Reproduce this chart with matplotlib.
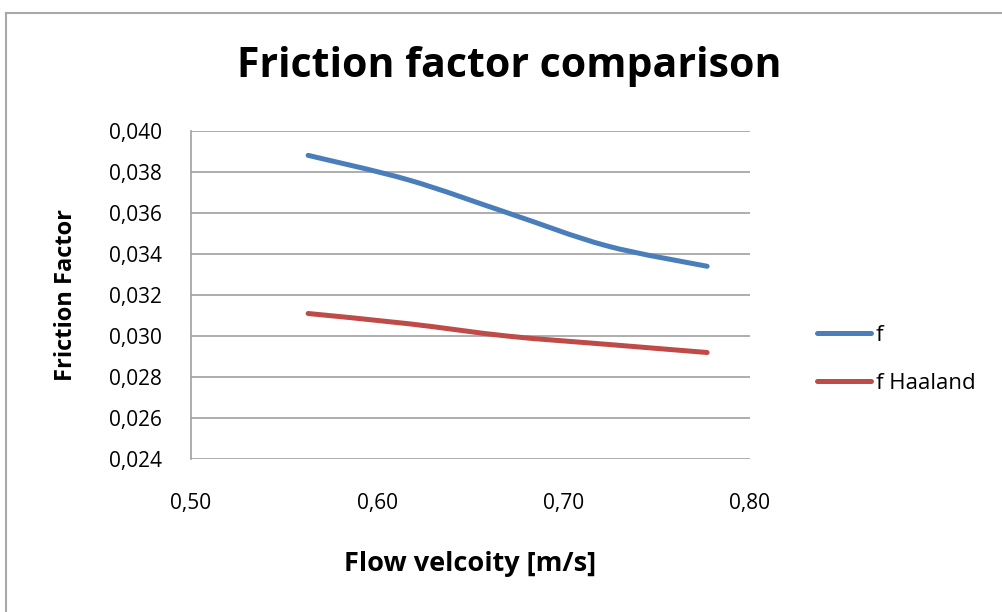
import matplotlib
matplotlib.use("Agg")
import matplotlib.pyplot as plt
from matplotlib.path import Path
from matplotlib.patches import PathPatch
from matplotlib.lines import Line2D
from matplotlib.ticker import FuncFormatter

plt.rcParams['font.family'] = ['Open Sans', 'DejaVu Sans']

# data
velocity = [0.563, 0.617, 0.670, 0.723, 0.777]
f_measured = [0.0388, 0.0376, 0.0360, 0.0344, 0.0334]
f_haaland = [0.0311, 0.0306, 0.0300, 0.0296, 0.0292]

x_ticks = [0.50, 0.60, 0.70, 0.80]
y_ticks = [0.024, 0.026, 0.028, 0.030, 0.032, 0.034, 0.036, 0.038, 0.040]

blue = '#4a7ebb'
red = '#be4b48'


def smooth_path(xs, ys):
    # Excel-like smoothed line: cubic bezier segments through the points
    verts = [(xs[0], ys[0])]
    codes = [Path.MOVETO]
    n = len(xs)
    for i in range(n - 1):
        x0, y0 = xs[max(i - 1, 0)], ys[max(i - 1, 0)]
        x1, y1 = xs[i], ys[i]
        x2, y2 = xs[i + 1], ys[i + 1]
        x3, y3 = xs[min(i + 2, n - 1)], ys[min(i + 2, n - 1)]
        c1 = (x1 + (x2 - x0) / 6, y1 + (y2 - y0) / 6)
        c2 = (x2 - (x3 - x1) / 6, y2 - (y3 - y1) / 6)
        verts += [c1, c2, (x2, y2)]
        codes += [Path.CURVE4] * 3
    return Path(verts, codes)


fig = plt.figure(figsize=(10.02, 6.12), dpi=100)
ax = fig.add_axes([0.1903, 0.2495, 0.5582, 0.5369])

for ys, c in [(f_measured, blue), (f_haaland, red)]:
    patch = PathPatch(smooth_path(velocity, ys), facecolor='none', edgecolor=c,
                      linewidth=3.6, capstyle='round', joinstyle='round', zorder=3)
    ax.add_patch(patch)

ax.set_xlim(0.50, 0.80)
ax.set_ylim(0.024, 0.040)
ax.set_xticks(x_ticks)
ax.set_yticks(y_ticks)
ax.xaxis.set_major_formatter(FuncFormatter(lambda v, p: f"{v:.2f}".replace('.', ',')))
ax.yaxis.set_major_formatter(FuncFormatter(lambda v, p: f"{v:.3f}".replace('.', ',')))
ax.tick_params(axis='both', length=0, labelsize=15, colors='black')
ax.tick_params(axis='x', pad=24)
ax.tick_params(axis='y', pad=21)
ax.grid(axis='y', color='#a0a0a0', linewidth=1.2)
for s in ['top', 'right', 'bottom']:
    ax.spines[s].set_visible(False)
ax.spines['left'].set_color('#a0a0a0')
ax.spines['left'].set_linewidth(1.2)

ax.set_xlabel('Flow velcoity [m/s]', fontsize=19.5, fontweight='bold', labelpad=27)
ax.set_ylabel('Friction Factor', fontsize=17, fontweight='bold', labelpad=22)
fig.text(0.5085, 0.892, 'Friction factor comparison', fontsize=29.5, fontweight='bold',
         ha='center', va='center')

# legend
handles = [Line2D([], [], color=blue, linewidth=3.6, solid_capstyle='round'),
           Line2D([], [], color=red, linewidth=3.6, solid_capstyle='round')]
fig.legend(handles, ['f', 'f Haaland'], loc='center left', bbox_to_anchor=(0.8154, 0.413),
           frameon=False, fontsize=16, handlelength=2.45, handletextpad=0.2,
           labelspacing=1.2, borderpad=0, borderaxespad=0)

# chart area border
fig.add_artist(Line2D([0.0055, 0.0055], [0, 0.979], color='#a8a8a8', linewidth=1.5))
fig.add_artist(Line2D([0.0055, 1], [0.979, 0.979], color='#a8a8a8', linewidth=1.5))

fig.savefig('out.png', dpi=100)
